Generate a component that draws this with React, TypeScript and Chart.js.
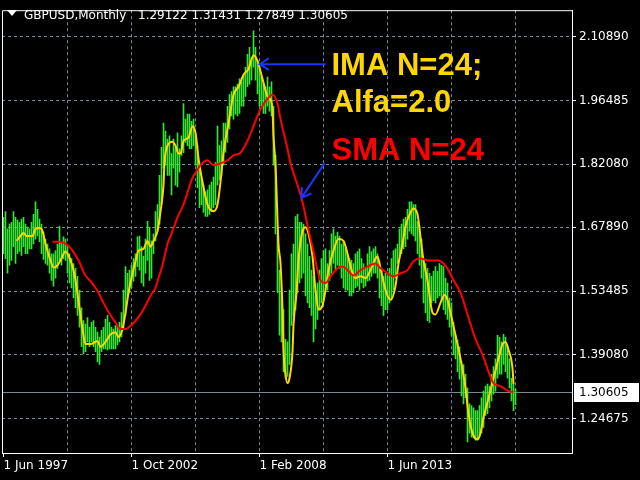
import { useEffect, useRef } from "react"
import { Chart, registerables } from "chart.js"

Chart.register(...registerables)

// GBPUSD monthly, bar index 0 = Jun 1997 (one bar per month)
const barHigh = [
  1.701, 1.714, 1.675, 1.686, 1.69, 1.714, 1.701, 1.695, 1.69, 1.697,
  1.701, 1.686, 1.679, 1.675, 1.69, 1.708, 1.736, 1.719, 1.697, 1.686,
  1.668, 1.652, 1.641, 1.63, 1.619, 1.619, 1.626, 1.641, 1.681, 1.646,
  1.657, 1.652, 1.635, 1.619, 1.608, 1.597, 1.586, 1.568, 1.537, 1.497,
  1.468, 1.46, 1.475, 1.453, 1.464, 1.468, 1.453, 1.442, 1.431, 1.446,
  1.453, 1.471, 1.48, 1.464, 1.453, 1.449, 1.457, 1.457, 1.464, 1.486,
  1.537, 1.59, 1.575, 1.582, 1.593, 1.608, 1.619, 1.657, 1.659, 1.635,
  1.613, 1.652, 1.692, 1.679, 1.648, 1.664, 1.714, 1.73, 1.796, 1.859,
  1.914, 1.896, 1.878, 1.885, 1.845, 1.878, 1.859, 1.892, 1.856, 1.885,
  1.958, 1.923, 1.934, 1.934, 1.918, 1.923, 1.885, 1.863, 1.812, 1.79,
  1.774, 1.759, 1.763, 1.774, 1.781, 1.792, 1.825, 1.907, 1.863, 1.874,
  1.914, 1.914, 1.952, 1.978, 1.985, 1.996, 1.996, 2.002, 2.014, 2.007,
  2.022, 2.04, 2.069, 2.085, 2.062, 2.122, 2.085, 2.056, 2.04, 2.018,
  2.002, 1.996, 2.018, 1.996, 2.007, 1.952, 1.841, 1.664, 1.582, 1.531,
  1.493, 1.426, 1.42, 1.537, 1.619, 1.641, 1.703, 1.708, 1.69, 1.69,
  1.686, 1.664, 1.641, 1.613, 1.582, 1.568, 1.524, 1.553, 1.582, 1.608,
  1.626, 1.63, 1.597, 1.626, 1.664, 1.675, 1.659, 1.668, 1.659, 1.641,
  1.646, 1.63, 1.619, 1.608, 1.604, 1.597, 1.619, 1.624, 1.63, 1.608,
  1.597, 1.586, 1.619, 1.635, 1.624, 1.63, 1.635, 1.619, 1.601, 1.586,
  1.568, 1.575, 1.568, 1.586, 1.608, 1.626, 1.63, 1.641, 1.675, 1.686,
  1.697, 1.701, 1.719, 1.736, 1.736, 1.73, 1.73, 1.692, 1.681, 1.652,
  1.604, 1.597, 1.586, 1.575, 1.568, 1.579, 1.59, 1.579, 1.597, 1.593,
  1.59, 1.564, 1.553, 1.519, 1.508, 1.464, 1.435, 1.424, 1.409, 1.375,
  1.369, 1.347, 1.316, 1.28, 1.276, 1.271, 1.265, 1.265, 1.276, 1.294,
  1.309, 1.32, 1.325, 1.32, 1.347, 1.364, 1.382, 1.435, 1.431, 1.42,
  1.437, 1.431, 1.413, 1.382, 1.338, 1.325, 1.31431,
]

const barLow = [
  1.619, 1.608, 1.575, 1.593, 1.604, 1.635, 1.597, 1.619, 1.624, 1.615,
  1.635, 1.619, 1.619, 1.63, 1.63, 1.641, 1.652, 1.659, 1.646, 1.619,
  1.606, 1.597, 1.593, 1.575, 1.559, 1.546, 1.564, 1.586, 1.604, 1.593,
  1.608, 1.604, 1.575, 1.553, 1.542, 1.52, 1.497, 1.48, 1.453, 1.409,
  1.393, 1.398, 1.42, 1.409, 1.42, 1.409, 1.398, 1.375, 1.369, 1.398,
  1.404, 1.404, 1.402, 1.404, 1.404, 1.404, 1.404, 1.413, 1.42, 1.431,
  1.449, 1.48, 1.524, 1.531, 1.542, 1.557, 1.568, 1.59, 1.582, 1.553,
  1.546, 1.575, 1.604, 1.559, 1.564, 1.619, 1.648, 1.67, 1.686, 1.73,
  1.812, 1.819, 1.796, 1.796, 1.752, 1.812, 1.774, 1.77, 1.803, 1.841,
  1.847, 1.87, 1.863, 1.856, 1.856, 1.863, 1.819, 1.768, 1.723, 1.73,
  1.712, 1.703, 1.703, 1.708, 1.714, 1.723, 1.73, 1.774, 1.785, 1.796,
  1.819, 1.848, 1.87, 1.901, 1.93, 1.923, 1.934, 1.93, 1.936, 1.952,
  1.952, 1.974, 1.996, 2.002, 2.011, 2.04, 2.011, 1.98, 1.952, 1.952,
  1.936, 1.936, 1.952, 1.941, 1.93, 1.819, 1.664, 1.531, 1.435, 1.42,
  1.353, 1.338, 1.342, 1.369, 1.457, 1.48, 1.493, 1.531, 1.553, 1.564,
  1.575, 1.524, 1.508, 1.497, 1.48, 1.42, 1.449, 1.471, 1.493, 1.508,
  1.515, 1.546, 1.537, 1.559, 1.575, 1.597, 1.582, 1.593, 1.586, 1.564,
  1.542, 1.537, 1.537, 1.524, 1.524, 1.531, 1.542, 1.546, 1.537, 1.553,
  1.542, 1.546, 1.557, 1.559, 1.568, 1.575, 1.575, 1.564, 1.519, 1.502,
  1.48, 1.493, 1.493, 1.508, 1.515, 1.537, 1.564, 1.597, 1.615, 1.619,
  1.63, 1.635, 1.652, 1.67, 1.664, 1.659, 1.648, 1.619, 1.593, 1.564,
  1.508, 1.486, 1.468, 1.464, 1.508, 1.513, 1.508, 1.519, 1.524, 1.515,
  1.493, 1.482, 1.471, 1.453, 1.435, 1.391, 1.382, 1.353, 1.336, 1.298,
  1.28, 1.294, 1.194, 1.214, 1.205, 1.203, 1.198, 1.198, 1.209, 1.214,
  1.227, 1.254, 1.258, 1.271, 1.287, 1.302, 1.309, 1.338, 1.347, 1.347,
  1.369, 1.353, 1.338, 1.316, 1.287, 1.265, 1.27849,
]

// IMA N=24, Alfa=2.0 (yellow) read at bar positions
const imaMonths = [
  6.5, 8.5, 10, 11.5, 14.5, 16, 18, 19.5, 21, 23.5,
  25, 27, 28.5, 31, 32.5, 34.5, 36, 38.5, 39.5, 41,
  43.5, 47, 48.5, 51, 53.5, 56, 57.5, 59.5, 61, 62.5,
  64.5, 66, 67.5, 70, 72, 73.5, 75, 77, 78.5, 80,
  80.5, 82, 84.5, 86, 87.5, 88.5, 90, 92.5, 94.5, 96,
  97.5, 99.5, 102, 105, 107, 108.5, 110, 112.5, 115, 117.5,
  120, 122.5, 125, 127, 129.5, 132, 133.5, 134.5, 135, 136,
  137.5, 138.5, 139.5, 140, 141, 142, 143, 144.5, 145, 146.5,
  147.5, 149.5, 151, 152.5, 154.5, 156, 157.5, 159.5, 161, 162.5,
  165, 167.5, 170, 172, 174.5, 176, 178.5, 181, 183.5, 186,
  187, 188.5, 191, 193.5, 196, 197.5, 199.5, 201, 203.5, 205,
  207, 208.5, 210, 212, 214.5, 216, 218.5, 220.5, 222, 223.5,
  226, 228.5, 231, 232.5, 234.5, 237, 238.5, 240, 242.5, 245,
  247.5, 249.5, 251, 252.5, 254.5, 255,
]
const imaValues = [
  1.648, 1.659, 1.666, 1.659, 1.659, 1.675, 1.677, 1.67, 1.641, 1.604,
  1.588, 1.593, 1.604, 1.624, 1.615, 1.59, 1.559, 1.48, 1.449, 1.415,
  1.415, 1.422, 1.409, 1.42, 1.437, 1.442, 1.431, 1.449, 1.486, 1.531,
  1.575, 1.602, 1.626, 1.63, 1.648, 1.635, 1.648, 1.67, 1.714, 1.774,
  1.825, 1.863, 1.872, 1.863, 1.845, 1.845, 1.874, 1.881, 1.907, 1.892,
  1.834, 1.781, 1.73, 1.715, 1.73, 1.781, 1.847, 1.914, 1.978, 1.996,
  2.023, 2.036, 2.067, 2.054, 2.014, 1.974, 1.967, 1.943, 1.885, 1.819,
  1.641, 1.597, 1.493, 1.404, 1.347, 1.327, 1.338, 1.398, 1.457, 1.531,
  1.604, 1.67, 1.679, 1.664, 1.613, 1.537, 1.493, 1.502, 1.537, 1.582,
  1.626, 1.652, 1.648, 1.619, 1.575, 1.564, 1.568, 1.564, 1.582, 1.608,
  1.613, 1.586, 1.537, 1.515, 1.546, 1.597, 1.641, 1.681, 1.712, 1.721,
  1.708, 1.657, 1.604, 1.559, 1.486, 1.482, 1.508, 1.526, 1.515, 1.486,
  1.435, 1.382, 1.316, 1.258, 1.214, 1.2, 1.214, 1.249, 1.293, 1.338,
  1.382, 1.415, 1.42, 1.402, 1.36, 1.325,
]

// SMA N=24 (red)
const smaMonths = [
  24.5, 27.5, 32, 34.5, 37.5, 41, 43.5, 47, 50, 53.5,
  56, 58.5, 61, 64.5, 68.5, 71, 73.5, 76, 77.5, 79.5,
  82, 84.5, 87, 90, 94.5, 97.5, 98.5, 102, 105, 108.5,
  112, 115, 118.5, 122, 125, 127, 128.5, 131, 134.5, 137,
  138.5, 142, 143.5, 147, 149.5, 152, 155, 158.5, 161, 163.5,
  167, 169.5, 172, 175, 178.5, 182, 186, 188.5, 192, 195,
  198.5, 202, 205, 208.5, 212.5, 217.5, 220, 222.5, 225, 228.5,
  231, 233.5, 236, 239.5, 242.5, 245, 248.5, 251, 252.5, 255,
]
const smaValues = [
  1.646, 1.646, 1.639, 1.626, 1.604, 1.57, 1.557, 1.535, 1.508, 1.48,
  1.464, 1.449, 1.449, 1.46, 1.482, 1.502, 1.524, 1.542, 1.564, 1.593,
  1.641, 1.67, 1.701, 1.73, 1.79, 1.812, 1.819, 1.83, 1.819, 1.823,
  1.83, 1.841, 1.847, 1.874, 1.907, 1.93, 1.945, 1.963, 1.978, 1.958,
  1.923, 1.856, 1.823, 1.774, 1.736, 1.683, 1.624, 1.559, 1.553, 1.568,
  1.586, 1.59, 1.582, 1.57, 1.582, 1.59, 1.597, 1.586, 1.575, 1.568,
  1.575, 1.582, 1.602, 1.608, 1.604, 1.604, 1.597, 1.582, 1.559, 1.531,
  1.497, 1.46, 1.426, 1.391, 1.353, 1.327, 1.32, 1.313, 1.309, 1.307,
]

const priceTicks = [1.24675, 1.3908, 1.53485, 1.6789, 1.8208, 1.96485, 2.1089]
const dateTickMonths = [0, 32, 64, 96, 128, 160, 192, 224, 256]
const dateTickLabels = ["1 Jun 1997", "", "1 Oct 2002", "", "1 Feb 2008", "", "1 Jun 2013", "", ""]

const currentPrice = 1.30605
const symbolTitle = "GBPUSD,Monthly"
const ohlcTitle = "1.29122 1.31431 1.27849 1.30605"

// notes drawn on the chart, anchored in (month, price)
const noteTexts = ["IMA N=24;", "Alfa=2.0", "SMA N=24"]
const noteMonth = [164, 164, 164]
const notePrice = [2.022, 1.938, 1.83]
const arrowFrom = [[161, 2.047], [160.5, 1.823]]
const arrowTo = [[128, 2.047], [149, 1.745]]

const AXIS_FONT = { family: "'DejaVu Sans', sans-serif", size: 12 }
const GRID = "#778899"

const drawArrow = (ctx: CanvasRenderingContext2D, x1: number, y1: number, x2: number, y2: number) => {
  const ang = Math.atan2(y2 - y1, x2 - x1)
  const len = 11
  const spread = 0.55
  ctx.beginPath()
  ctx.moveTo(x1, y1)
  ctx.lineTo(x2, y2)
  ctx.moveTo(x2 - len * Math.cos(ang - spread), y2 - len * Math.sin(ang - spread))
  ctx.lineTo(x2, y2)
  ctx.lineTo(x2 - len * Math.cos(ang + spread), y2 - len * Math.sin(ang + spread))
  ctx.stroke()
}

const terminalDecor = {
  id: "terminalDecor",
  beforeDatasetsDraw(chart: any) {
    const { ctx, chartArea: a, scales } = chart
    const y = Math.round(scales.y.getPixelForValue(currentPrice)) + 0.5
    ctx.save()
    ctx.strokeStyle = GRID
    ctx.lineWidth = 1
    ctx.beginPath()
    ctx.moveTo(a.left, y)
    ctx.lineTo(a.right, y)
    ctx.stroke()
    ctx.restore()
  },
  afterDraw(chart: any) {
    const { ctx, chartArea: a, scales } = chart
    const sx = scales.x
    const sy = scales.y
    ctx.save()

    // left and top frame
    ctx.strokeStyle = "#ffffff"
    ctx.lineWidth = 1
    ctx.beginPath()
    ctx.moveTo(a.left + 0.5, a.bottom)
    ctx.lineTo(a.left + 0.5, a.top + 0.5)
    ctx.lineTo(a.right, a.top + 0.5)
    ctx.stroke()

    // current price tag
    const py = Math.round(sy.getPixelForValue(currentPrice))
    ctx.fillStyle = "#ffffff"
    ctx.fillRect(a.right + 2, py - 9, 65, 19)
    ctx.fillStyle = "#000000"
    ctx.font = "12px 'DejaVu Sans', sans-serif"
    ctx.textBaseline = "middle"
    ctx.fillText(currentPrice.toFixed(5), a.right + 7, py + 1)

    // header
    ctx.fillStyle = "#ffffff"
    ctx.beginPath()
    ctx.moveTo(7, 10)
    ctx.lineTo(17, 10)
    ctx.lineTo(12, 16)
    ctx.closePath()
    ctx.fill()
    ctx.textBaseline = "alphabetic"
    ctx.fillText(symbolTitle, 24, 19)
    ctx.fillText(ohlcTitle, 138, 19)

    // notes
    ctx.font = "bold 31px 'Liberation Sans', Arial, sans-serif"
    noteTexts.forEach((t, i) => {
      ctx.fillStyle = i < 2 ? "#ffd700" : "#ff0000"
      ctx.fillText(t, sx.getPixelForValue(noteMonth[i]), sy.getPixelForValue(notePrice[i]))
    })
    ctx.strokeStyle = "#1a35ff"
    ctx.lineWidth = 2
    arrowFrom.forEach((f, i) => {
      drawArrow(
        ctx,
        sx.getPixelForValue(f[0]),
        sy.getPixelForValue(f[1]),
        sx.getPixelForValue(arrowTo[i][0]),
        sy.getPixelForValue(arrowTo[i][1])
      )
    })
    ctx.restore()
  },
}

export default function App() {
  const chartRef = useRef<HTMLCanvasElement>(null)
  const chartInstance = useRef<Chart | null>(null)

  useEffect(() => {
    if (!chartRef.current) return
    if (chartInstance.current) chartInstance.current.destroy()

    const ctx = chartRef.current.getContext("2d")
    if (!ctx) return

    chartInstance.current = new Chart(ctx, {
      type: "bar",
      data: {
        datasets: [
          {
            type: "line",
            label: "SMA N=24",
            data: smaMonths.map((m, i) => ({ x: m, y: smaValues[i] })),
            borderColor: "#ff0000",
            borderWidth: 2,
            pointRadius: 0,
            cubicInterpolationMode: "monotone",
            order: 1,
          },
          {
            type: "line",
            label: "IMA N=24; Alfa=2.0",
            data: imaMonths.map((m, i) => ({ x: m, y: imaValues[i] })),
            borderColor: "#ffd700",
            borderWidth: 2,
            pointRadius: 0,
            cubicInterpolationMode: "monotone",
            order: 2,
          },
          {
            type: "bar",
            label: "GBPUSD",
            data: barHigh.map((h, i) => ({ x: i, y: [barLow[i], h] })),
            backgroundColor: "#32e632",
            borderWidth: 0,
            barThickness: 1,
            order: 3,
          },
        ] as any,
      },
      options: {
        animation: false,
        responsive: true,
        maintainAspectRatio: false,
        layout: { padding: { left: 2, top: 2, right: 0, bottom: 0 }, autoPadding: false },
        plugins: {
          legend: { display: false },
          tooltip: { enabled: false },
        },
        scales: {
          x: {
            type: "linear",
            position: "bottom",
            offset: false,
            min: -0.75,
            max: 284.25,
            afterFit: (s: any) => {
              s.height = 27
            },
            afterBuildTicks: (s: any) => {
              s.ticks = dateTickMonths.map((v) => ({ value: v }))
            },
            ticks: {
              callback: (_v: any, i: number) => dateTickLabels[i],
              align: "start",
              maxRotation: 0,
              minRotation: 0,
              autoSkip: false,
              color: "#ffffff",
              font: AXIS_FONT,
              padding: 2,
            },
            grid: {
              offset: false,
              color: (c: any) => (c.tick && c.tick.value === 0 ? "rgba(0,0,0,0)" : GRID),
              tickColor: (c: any) => (dateTickLabels[c.index] ? "#ffffff" : "rgba(0,0,0,0)"),
              tickLength: 4,
              lineWidth: 1,
            },
            border: { color: "#ffffff", width: 1, dash: [3, 3] },
          },
          y: {
            type: "linear",
            position: "right",
            min: 1.16918,
            max: 2.16874,
            afterFit: (s: any) => {
              s.width = 68
            },
            afterBuildTicks: (s: any) => {
              s.ticks = priceTicks.map((v) => ({ value: v }))
            },
            ticks: {
              callback: (v: any) => Number(v).toFixed(5),
              color: "#ffffff",
              font: AXIS_FONT,
              padding: 3,
            },
            grid: {
              color: GRID,
              tickColor: "#ffffff",
              tickLength: 4,
              lineWidth: 1,
            },
            border: { color: "#ffffff", width: 1, dash: [3, 3] },
          },
        },
      } as any,
      plugins: [terminalDecor],
    })

    return () => {
      if (chartInstance.current) {
        chartInstance.current.destroy()
        chartInstance.current = null
      }
    }
  }, [])

  return (
    <div style={{ position: "fixed", left: 0, top: 0, width: 640, height: 480, background: "#000000" }}>
      <canvas ref={chartRef}></canvas>
    </div>
  )
}
